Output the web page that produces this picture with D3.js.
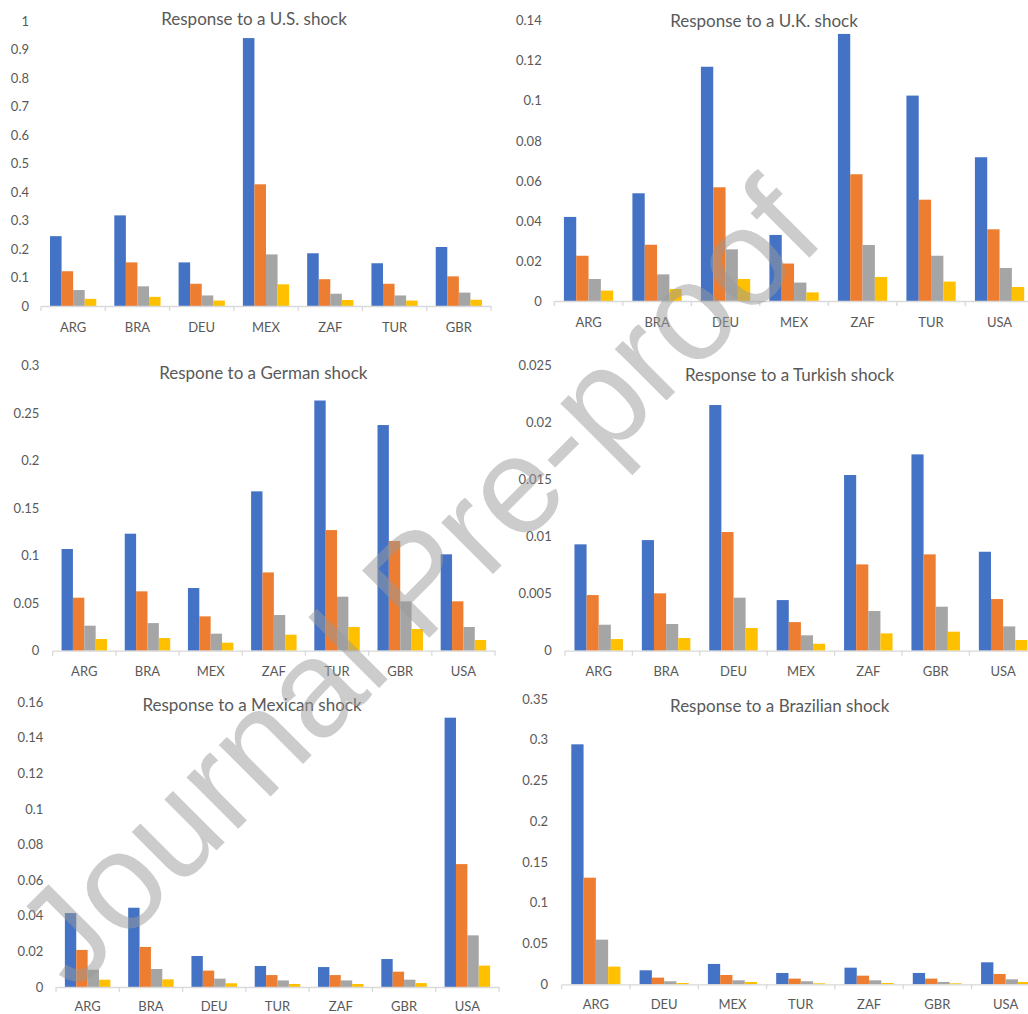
<!DOCTYPE html>
<html><head><meta charset="utf-8">
<script src="https://cdn.jsdelivr.net/npm/d3@7"></script>
<style>body{margin:0;background:#fff}svg{display:block}</style>
</head><body>
<svg id="chart" width="1028" height="1014"></svg>
<script>
// ---------- data ----------
const seriesKeys = ["s1", "s2", "s3", "s4"];
const seriesColors = ["#4472C4", "#ED7D31", "#A5A5A5", "#FFC000"];

const usTitle = "Response to a U.S. shock";
const usCategories = ["ARG", "BRA", "DEU", "MEX", "ZAF", "TUR", "GBR"];
const usValues = [
  [0.245, 0.122, 0.056, 0.025],
  [0.318, 0.153, 0.069, 0.032],
  [0.153, 0.078, 0.037, 0.019],
  [0.940, 0.427, 0.181, 0.076],
  [0.185, 0.094, 0.043, 0.021],
  [0.150, 0.078, 0.037, 0.019],
  [0.207, 0.104, 0.047, 0.022]
];
const usTicks = [0, 0.1, 0.2, 0.3, 0.4, 0.5, 0.6, 0.7, 0.8, 0.9, 1];

const ukTitle = "Response to a U.K. shock";
const ukCategories = ["ARG", "BRA", "DEU", "MEX", "ZAF", "TUR", "USA"];
const ukValues = [
  [0.042, 0.0226, 0.011, 0.0052],
  [0.0538, 0.0281, 0.0133, 0.006],
  [0.117, 0.0568, 0.0258, 0.011],
  [0.033, 0.0187, 0.0092, 0.0043],
  [0.1334, 0.0633, 0.028, 0.012],
  [0.1026, 0.0506, 0.0226, 0.0097],
  [0.0718, 0.0358, 0.0165, 0.007]
];
const ukTicks = [0, 0.02, 0.04, 0.06, 0.08, 0.1, 0.12, 0.14];

const deTitle = "Respone to a German shock";
const deCategories = ["ARG", "BRA", "MEX", "ZAF", "TUR", "GBR", "USA"];
const deValues = [
  [0.1069, 0.0557, 0.0263, 0.0123],
  [0.123, 0.0624, 0.029, 0.0133],
  [0.0659, 0.0361, 0.0179, 0.0084],
  [0.1675, 0.0823, 0.0375, 0.0168],
  [0.263, 0.1268, 0.0568, 0.0249],
  [0.2372, 0.1153, 0.0519, 0.0228],
  [0.1013, 0.0519, 0.0249, 0.0112]
];
const deTicks = [0, 0.05, 0.1, 0.15, 0.2, 0.25, 0.3];

const trTitle = "Response to a Turkish shock";
const trCategories = ["ARG", "BRA", "DEU", "MEX", "ZAF", "GBR", "USA"];
const trValues = [
  [0.00933, 0.00488, 0.00228, 0.00102],
  [0.0097, 0.00503, 0.00234, 0.00111],
  [0.02155, 0.01041, 0.00465, 0.00199],
  [0.00444, 0.00251, 0.00135, 0.00061],
  [0.01541, 0.00757, 0.00348, 0.00152],
  [0.01722, 0.00845, 0.00386, 0.00167],
  [0.00868, 0.00453, 0.00213, 0.00094]
];
const trTicks = [0, 0.005, 0.01, 0.015, 0.02, 0.025];

const mxTitle = "Response to a Mexican shock";
const mxCategories = ["ARG", "BRA", "DEU", "TUR", "ZAF", "GBR", "USA"];
const mxValues = [
  [0.0415, 0.0208, 0.0097, 0.0041],
  [0.0445, 0.0225, 0.0101, 0.0043],
  [0.0174, 0.0092, 0.0047, 0.0021],
  [0.0118, 0.0067, 0.0037, 0.0017],
  [0.0112, 0.0067, 0.0037, 0.0017],
  [0.0157, 0.0086, 0.0041, 0.0022],
  [0.1512, 0.069, 0.029, 0.012]
];
const mxTicks = [0, 0.02, 0.04, 0.06, 0.08, 0.1, 0.12, 0.14, 0.16];

const brTitle = "Response to a Brazilian shock";
const brCategories = ["ARG", "DEU", "MEX", "TUR", "ZAF", "GBR", "USA"];
const brValues = [
  [0.2944, 0.1308, 0.0548, 0.0217],
  [0.0172, 0.0082, 0.0037, 0.0016],
  [0.025, 0.0114, 0.0049, 0.0029],
  [0.0139, 0.007, 0.0037, 0.0012],
  [0.0204, 0.0106, 0.0049, 0.0016],
  [0.0139, 0.007, 0.0029, 0.0012],
  [0.027, 0.0127, 0.0061, 0.0029]
];
const brTicks = [0, 0.05, 0.1, 0.15, 0.2, 0.25, 0.3, 0.35];

const watermarkText = "Journal Pre-proof";

// ---------- layout ----------
const panels = [
  {title: usTitle, cats: usCategories, vals: usValues, ticks: usTicks,
   x0: 41, x1: 491, yZero: 306, yTopPx: 21, labelRight: 29, titleX: 254, titleY: 25, catY: 332},
  {title: ukTitle, cats: ukCategories, vals: ukValues, ticks: ukTicks,
   x0: 554.3, x1: 1033.8, yZero: 301, yTopPx: 20.7, labelRight: 541.7, titleX: 764, titleY: 27, catY: 327},
  {title: deTitle, cats: deCategories, vals: deValues, ticks: deTicks,
   x0: 52.7, x1: 495, yZero: 650.7, yTopPx: 365.3, labelRight: 39.3, titleX: 263.3, titleY: 379, catY: 676},
  {title: trTitle, cats: trCategories, vals: trValues, ticks: trTicks,
   x0: 565, x1: 1036.8, yZero: 650.7, yTopPx: 365.7, labelRight: 551.7, titleX: 789.5, titleY: 380.5, catY: 676},
  {title: mxTitle, cats: mxCategories, vals: mxValues, ticks: mxTicks,
   x0: 56, x1: 499, yZero: 987, yTopPx: 702, labelRight: 43.3, titleX: 252, titleY: 710.5, catY: 1011},
  {title: brTitle, cats: brCategories, vals: brValues, ticks: brTicks,
   x0: 561.7, x1: 1039.8, yZero: 984.3, yTopPx: 699, labelRight: 548, titleX: 779.7, titleY: 711.5, catY: 1009}
];

const svg = d3.select("#chart");
const FONT = "Lato, 'Open Sans', sans-serif";
const TEXT = "#595959";
const AXIS = "#D9D9D9";
const color = d3.scaleOrdinal().domain(seriesKeys).range(seriesColors);
const fmt = d3.format("~g");

panels.forEach(p => {
  const g = svg.append("g");
  const x = d3.scaleBand().domain(p.cats).range([p.x0, p.x1]).paddingInner(0).paddingOuter(0);
  const xs = d3.scaleBand().domain(seriesKeys).range([0, x.bandwidth()]).paddingInner(0).paddingOuter(0.78);
  const yMax = p.ticks[p.ticks.length - 1];
  const y = d3.scaleLinear().domain([0, yMax]).range([p.yZero, p.yTopPx]);

  // bars
  p.cats.forEach((c, i) => {
    g.append("g").selectAll("rect")
      .data(seriesKeys.map((k, j) => ({k, v: p.vals[i][j]})))
      .join("rect")
      .attr("x", d => x(c) + xs(d.k))
      .attr("width", xs.bandwidth())
      .attr("y", d => y(d.v))
      .attr("height", d => y(0) - y(d.v))
      .attr("fill", d => color(d.k));
  });

  // x axis
  const xAxis = g.append("g").attr("transform", `translate(0,${p.yZero})`)
    .call(d3.axisBottom(x).tickSize(0).tickSizeOuter(0));
  xAxis.select(".domain").attr("stroke", AXIS).attr("stroke-width", 1.3);
  xAxis.selectAll("text").attr("dy", null).attr("y", p.catY - p.yZero)
    .attr("font-family", FONT).attr("font-size", 13).attr("fill", TEXT);
  // boundary ticks
  const bounds = p.cats.map(c => x(c)).concat([x(p.cats[p.cats.length - 1]) + x.step()]);
  xAxis.append("g").selectAll("line").data(bounds).join("line")
    .attr("x1", d => d).attr("x2", d => d).attr("y1", 0).attr("y2", 5)
    .attr("stroke", AXIS).attr("stroke-width", 1.3);

  // y axis (labels only)
  const yAxis = g.append("g").attr("transform", `translate(${p.labelRight},0)`)
    .call(d3.axisLeft(y).tickValues(p.ticks).tickSize(0).tickPadding(0).tickFormat(fmt));
  yAxis.select(".domain").remove();
  yAxis.selectAll("text").attr("font-family", FONT).attr("font-size", 13).attr("fill", TEXT);

  // title
  g.append("text").attr("x", p.titleX).attr("y", p.titleY)
    .attr("text-anchor", "middle").attr("font-family", FONT).attr("font-size", 17)
    .attr("fill", TEXT).text(p.title);
});

// watermark
svg.append("text")
  .attr("transform", "translate(451,616) rotate(-45)")
  .attr("text-anchor", "middle")
  .attr("font-family", "'Liberation Sans', Arial, sans-serif")
  .attr("font-size", 138)
  .attr("fill", "#9a9a9a")
  .attr("fill-opacity", 0.5)
  .text(watermarkText);
</script>
</body></html>
